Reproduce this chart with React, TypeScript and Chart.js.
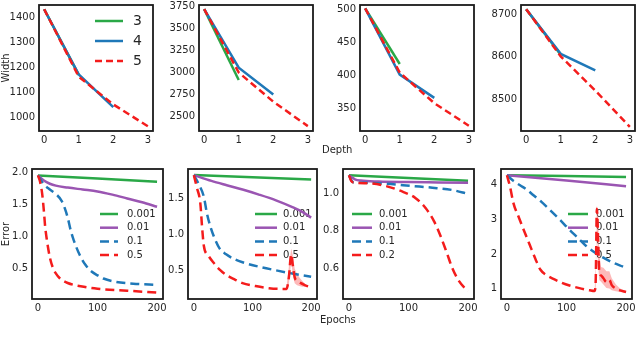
import React, { useEffect, useRef } from "react";
import { Chart, registerables } from "chart.js";
Chart.register(...registerables);

const FONT = "'DejaVu Sans', sans-serif";
const TXT = "#262626";
const GREEN = "#2aa847";
const PURPLE = "#9a55b2";
const BLUE = "#1f78b8";
const RED = "#f41c1c";
const BAND = "rgba(250,100,100,0.45)";

// ---------- Top row: learned width vs depth ----------
const depthSteps = [0, 1, 2, 3];
const depthTicks = [0, 1, 2, 3];
const depthLabels = ["3", "4", "5"];

const w1_d3 = [1435, 1170];
const w1_d4 = [1435, 1172, 1040];
const w1_d5 = [1435, 1163, 1051, 963];
const w1_ticks = [1000, 1100, 1200, 1300, 1400];

const w2_d3 = [3715, 2915];
const w2_d4 = [3715, 3055, 2752];
const w2_d5 = [3715, 3000, 2672, 2396];
const w2_ticks = [2500, 2750, 3000, 3250, 3500, 3750];

const w3_d3 = [501, 417];
const w3_d4 = [501, 401, 366];
const w3_d5 = [501, 404, 358, 324];
const w3_ticks = [350, 400, 450, 500];

const w4_d3 = [8713, 8605];
const w4_d4 = [8713, 8607, 8568];
const w4_d5 = [8713, 8601, 8520, 8434];
const w4_ticks = [8500, 8600, 8700];

// ---------- Bottom row: error vs epochs ----------
const epochTicks = [0, 100, 200];
const lrLabelsA = ["0.001", "0.01", "0.1", "0.5"];
const lrLabelsB = ["0.001", "0.01", "0.1", "0.2"];

const e5_g_ep = [0, 100, 200];
const e5_g = [1.96, 1.91, 1.86];
const e5_p_ep = [0, 10, 20, 30, 50, 75, 100, 125, 150, 175, 200];
const e5_p = [1.96, 1.88, 1.83, 1.8, 1.77, 1.74, 1.71, 1.66, 1.6, 1.54, 1.47];
const e5_b_ep = [0, 10, 20, 30, 40, 45, 50, 55, 60, 70, 80, 90, 100, 110, 130, 160, 200];
const e5_b = [1.96, 1.82, 1.74, 1.67, 1.56, 1.45, 1.3, 1.1, 0.95, 0.72, 0.56, 0.46, 0.4, 0.35, 0.3, 0.27, 0.25];
const e5_r_ep = [0, 3, 7, 10, 12, 15, 20, 25, 30, 37, 50, 77, 100, 150, 200];
const e5_r = [1.96, 1.88, 1.68, 1.4, 1.17, 0.95, 0.68, 0.52, 0.43, 0.35, 0.28, 0.22, 0.19, 0.16, 0.13];
const e5_ticks = [0.5, 1.0, 1.5, 2.0];

const e6_g_ep = [0, 200];
const e6_g = [1.82, 1.76];
const e6_p_ep = [0, 30, 56, 83, 111, 140, 167, 185, 200];
const e6_p = [1.82, 1.74, 1.68, 1.62, 1.55, 1.47, 1.38, 1.31, 1.23];
const e6_b_ep = [0, 8, 17, 22, 28, 35, 44, 55, 70, 83, 110, 139, 170, 200];
const e6_b = [1.82, 1.7, 1.52, 1.3, 1.11, 0.95, 0.8, 0.72, 0.65, 0.61, 0.55, 0.5, 0.45, 0.41];
const e6_r_ep = [0, 5, 11, 14, 17, 25, 33, 45, 56, 70, 83, 105, 128, 150, 158, 162, 166, 169, 172, 176, 180, 190, 200];
const e6_r = [1.82, 1.65, 1.43, 1.1, 0.84, 0.7, 0.61, 0.5, 0.43, 0.37, 0.32, 0.28, 0.25, 0.24, 0.24, 0.4, 0.72, 0.55, 0.4, 0.35, 0.33, 0.29, 0.26];
const e6_band_ep = [158, 162, 166, 169, 172, 176, 180, 185, 190];
const e6_band_hi = [0.26, 0.55, 0.8, 0.7, 0.52, 0.45, 0.4, 0.35, 0.31];
const e6_band_lo = [0.23, 0.3, 0.62, 0.42, 0.32, 0.29, 0.28, 0.27, 0.27];
const e6_ticks = [0.5, 1.0, 1.5];

const e7_g_ep = [0, 200];
const e7_g = [1.097, 1.067];
const e7_p_ep = [0, 5, 10, 20, 50, 100, 150, 200];
const e7_p = [1.097, 1.085, 1.075, 1.068, 1.063, 1.06, 1.058, 1.056];
const e7_b_ep = [0, 4, 8, 30, 60, 107, 140, 173, 200];
const e7_b = [1.097, 1.07, 1.058, 1.056, 1.052, 1.039, 1.03, 1.018, 0.997];
const e7_r_ep = [0, 4, 8, 35, 62, 90, 112, 129, 143, 154, 165, 173, 184, 198, 200];
const e7_r = [1.097, 1.065, 1.058, 1.053, 1.039, 1.009, 0.974, 0.92, 0.85, 0.77, 0.676, 0.605, 0.535, 0.483, 0.478];
const e7_ticks = [0.6, 0.8, 1.0];

const e8_g_ep = [0, 200];
const e8_g = [4.27, 4.22];
const e8_p_ep = [0, 100, 200];
const e8_p = [4.27, 4.12, 3.95];
const e8_b_ep = [0, 10, 22, 33, 44, 58, 72, 88, 105, 120, 133, 147, 161, 178, 194, 200];
const e8_b = [4.27, 4.12, 3.98, 3.86, 3.7, 3.5, 3.27, 3.0, 2.7, 2.45, 2.23, 2.05, 1.9, 1.75, 1.64, 1.6];
const e8_r_ep = [0, 5, 11, 20, 28, 39, 48, 56, 67, 78, 92, 105, 120, 139, 147, 149, 151, 153, 155, 158, 162, 167, 172, 176, 183, 190, 200];
const e8_r = [4.27, 3.95, 3.46, 3.05, 2.7, 2.23, 1.85, 1.55, 1.38, 1.28, 1.17, 1.09, 1.02, 0.95, 0.93, 1.2, 3.3, 2.5, 1.5, 1.38, 1.3, 1.19, 1.25, 1.1, 1.0, 0.95, 0.9];
const e8_band_ep = [147, 149, 151, 153, 155, 158, 162, 167, 172, 176, 183, 190, 200];
const e8_band_hi = [0.95, 1.6, 3.4, 3.2, 2.0, 1.62, 1.6, 1.5, 1.5, 1.3, 1.12, 1.0, 0.93];
const e8_band_lo = [0.91, 1.0, 2.8, 1.7, 1.25, 1.2, 1.12, 1.02, 1.0, 0.95, 0.92, 0.9, 0.88];
const e8_ticks = [1, 2, 3, 4];

// ---------- helpers ----------
const PT = 8;
const PR = 14;
const XH = 20;

const pts = (xs: number[], ys: number[]) => ys.map((y, i) => ({ x: xs[i], y }));

function line(label: string, xs: number[], ys: number[], color: string, dashed: boolean, order: number, dash: number[]) {
  return {
    label,
    data: pts(xs, ys),
    borderColor: color,
    backgroundColor: color,
    borderWidth: 2.5,
    borderDash: dashed ? dash : [],
    pointRadius: 0,
    fill: false,
    order,
    cubicInterpolationMode: "monotone",
    inLegend: true,
  };
}

function band(xs: number[], lo: number[], hi: number[]) {
  return [
    { label: "", data: pts(xs, lo), borderWidth: 0, borderColor: "transparent", pointRadius: 0, fill: false, order: 5, inLegend: false },
    { label: "", data: pts(xs, hi), borderWidth: 0, borderColor: "transparent", backgroundColor: BAND, pointRadius: 0, fill: "-1", order: 5, inLegend: false },
  ];
}

function topSets(a: number[], b: number[], c: number[]) {
  const d = [7, 4];
  return [
    { ...line(depthLabels[0], depthSteps, a, GREEN, false, 3, d), cubicInterpolationMode: "default", tension: 0 },
    { ...line(depthLabels[1], depthSteps, b, BLUE, false, 2, d), cubicInterpolationMode: "default", tension: 0 },
    { ...line(depthLabels[2], depthSteps, c, RED, true, 1, d), cubicInterpolationMode: "default", tension: 0 },
  ];
}

function botSets(labels: string[], g: [number[], number[]], p: [number[], number[]], b: [number[], number[]], r: [number[], number[]], bands: any[]) {
  const d = [9, 5];
  return [
    line(labels[0], g[0], g[1], GREEN, false, 4, d),
    line(labels[1], p[0], p[1], PURPLE, false, 3, d),
    line(labels[2], b[0], b[1], BLUE, true, 2, d),
    ...bands,
    line(labels[3], r[0], r[1], RED, true, 1, d),
  ];
}

const framePlugin = {
  id: "frame",
  afterDraw(chart: any) {
    const { ctx, chartArea } = chart;
    ctx.save();
    ctx.strokeStyle = "#1a1a1a";
    ctx.lineWidth = 1.8;
    ctx.strokeRect(chartArea.left, chartArea.top, chartArea.right - chartArea.left, chartArea.bottom - chartArea.top);
    ctx.restore();
  },
};

const legendPlugin = {
  id: "innerLegend",
  beforeDatasetsDraw(chart: any, _args: any, opts: any) {
    if (!opts || !opts.show) return;
    const { ctx, chartArea } = chart;
    const items = chart.data.datasets.filter((d: any) => d.inLegend);
    ctx.save();
    items.forEach((ds: any, i: number) => {
      const y = chartArea.top + opts.y0 + i * opts.dy;
      ctx.strokeStyle = ds.borderColor;
      ctx.lineWidth = ds.borderWidth;
      ctx.setLineDash(ds.borderDash || []);
      ctx.beginPath();
      ctx.moveTo(chartArea.left + opts.x0, y);
      ctx.lineTo(chartArea.left + opts.x1, y);
      ctx.stroke();
      ctx.setLineDash([]);
      ctx.fillStyle = TXT;
      ctx.font = `${opts.size}px ${FONT}`;
      ctx.textBaseline = "middle";
      ctx.textAlign = "left";
      ctx.fillText(ds.label, chartArea.left + opts.tx, y);
    });
    ctx.restore();
  },
};

type PanelCfg = {
  box: { l: number; t: number; r: number; b: number };
  yw: number;
  xmin: number;
  xmax: number;
  xticks: number[];
  ymin: number;
  ymax: number;
  yticks: number[];
  ydec: number;
  ytitle?: string;
  datasets: any[];
  legend?: any;
};

const panels: PanelCfg[] = [
  {
    box: { l: 39, t: 3, r: 153, b: 131 }, yw: 39, xmin: -0.15, xmax: 3.15, xticks: depthTicks,
    ymin: 944, ymax: 1452, yticks: w1_ticks, ydec: 0, ytitle: "Width",
    datasets: topSets(w1_d3, w1_d4, w1_d5),
    legend: { show: true, x0: 56, x1: 84, tx: 94, y0: 16, dy: 20, size: 14 },
  },
  {
    box: { l: 199, t: 3, r: 313, b: 131 }, yw: 36, xmin: -0.15, xmax: 3.15, xticks: depthTicks,
    ymin: 2341, ymax: 3761, yticks: w2_ticks, ydec: 0,
    datasets: topSets(w2_d3, w2_d4, w2_d5),
  },
  {
    box: { l: 360, t: 3, r: 474, b: 131 }, yw: 36, xmin: -0.15, xmax: 3.15, xticks: depthTicks,
    ymin: 316, ymax: 506, yticks: w3_ticks, ydec: 0,
    datasets: topSets(w3_d3, w3_d4, w3_d5),
  },
  {
    box: { l: 521, t: 3, r: 635, b: 131 }, yw: 36, xmin: -0.15, xmax: 3.15, xticks: depthTicks,
    ymin: 8424, ymax: 8723, yticks: w4_ticks, ydec: 0,
    datasets: topSets(w4_d3, w4_d4, w4_d5),
  },
  {
    box: { l: 32, t: 167, r: 163, b: 299 }, yw: 32, xmin: -10, xmax: 210, xticks: epochTicks,
    ymin: 0.03, ymax: 2.06, yticks: e5_ticks, ydec: 1, ytitle: "Error",
    datasets: botSets(lrLabelsA, [e5_g_ep, e5_g], [e5_p_ep, e5_p], [e5_b_ep, e5_b], [e5_r_ep, e5_r], []),
    legend: { show: true, x0: 68, x1: 86, tx: 95, y0: 45, dy: 13.7, size: 10 },
  },
  {
    box: { l: 188, t: 167, r: 317, b: 299 }, yw: 34, xmin: -10, xmax: 210, xticks: epochTicks,
    ymin: 0.1, ymax: 1.905, yticks: e6_ticks, ydec: 1,
    datasets: botSets(lrLabelsA, [e6_g_ep, e6_g], [e6_p_ep, e6_p], [e6_b_ep, e6_b], [e6_r_ep, e6_r], band(e6_band_ep, e6_band_lo, e6_band_hi)),
    legend: { show: true, x0: 67, x1: 89, tx: 95, y0: 45, dy: 13.7, size: 10 },
  },
  {
    box: { l: 343, t: 167, r: 474, b: 299 }, yw: 34, xmin: -10, xmax: 210, xticks: epochTicks,
    ymin: 0.435, ymax: 1.13, yticks: e7_ticks, ydec: 1,
    datasets: botSets(lrLabelsB, [e7_g_ep, e7_g], [e7_p_ep, e7_p], [e7_b_ep, e7_b], [e7_r_ep, e7_r], []),
    legend: { show: true, x0: 9, x1: 29, tx: 36, y0: 45, dy: 13.7, size: 10 },
  },
  {
    box: { l: 501, t: 167, r: 632, b: 299 }, yw: 34, xmin: -10, xmax: 210, xticks: epochTicks,
    ymin: 0.7, ymax: 4.45, yticks: e8_ticks, ydec: 0,
    datasets: botSets(lrLabelsA, [e8_g_ep, e8_g], [e8_p_ep, e8_p], [e8_b_ep, e8_b], [e8_r_ep, e8_r], band(e8_band_ep, e8_band_lo, e8_band_hi)),
    legend: { show: true, x0: 67, x1: 87, tx: 95, y0: 45, dy: 13.7, size: 10 },
  },
];

function Panel({ cfg }: { cfg: PanelCfg }) {
  const ref = useRef<HTMLCanvasElement>(null);
  const { l, t, r, b } = cfg.box;
  const w = cfg.yw + (r - l) + PR;
  const h = PT + (b - t) + XH;
  useEffect(() => {
    if (!ref.current) return;
    const tickFont = { family: FONT, size: 10 };
    const chart = new Chart(ref.current, {
      type: "line",
      data: { datasets: cfg.datasets },
      plugins: [legendPlugin, framePlugin],
      options: {
        responsive: false,
        animation: false,
        devicePixelRatio: 1,
        layout: { padding: { left: 0, top: PT, right: PR, bottom: 0 } },
        plugins: {
          legend: { display: false },
          tooltip: { enabled: false },
          innerLegend: cfg.legend || { show: false },
        } as any,
        scales: {
          x: {
            type: "linear",
            min: cfg.xmin,
            max: cfg.xmax,
            grid: { display: false, drawTicks: false },
            border: { display: false },
            ticks: { font: tickFont, color: TXT, padding: 3, maxRotation: 0, autoSkip: false, callback: (v: any) => String(v) },
            afterBuildTicks: (s: any) => { s.ticks = cfg.xticks.map((v) => ({ value: v })); },
            afterFit: (s: any) => { s.height = XH; },
          },
          y: {
            type: "linear",
            min: cfg.ymin,
            max: cfg.ymax,
            grid: { display: false, drawTicks: false },
            border: { display: false },
            ticks: { font: tickFont, color: TXT, padding: 4, autoSkip: false, callback: (v: any) => Number(v).toFixed(cfg.ydec) },
            afterBuildTicks: (s: any) => { s.ticks = cfg.yticks.map((v) => ({ value: v })); },
            afterFit: (s: any) => { s.width = cfg.yw; },
            title: { display: !!cfg.ytitle, text: cfg.ytitle || "", font: { family: FONT, size: 10 }, color: TXT, padding: 0 },
          },
        },
      } as any,
    } as any);
    return () => chart.destroy();
  }, []);
  return (
    <canvas
      ref={ref}
      width={w}
      height={h}
      style={{ position: "absolute", left: l - cfg.yw, top: t - PT, width: w, height: h }}
    />
  );
}

const labelStyle: React.CSSProperties = {
  position: "absolute",
  fontFamily: FONT,
  fontSize: 10,
  lineHeight: "12px",
  color: TXT,
  whiteSpace: "nowrap",
};

export default function App() {
  return (
    <div style={{ position: "absolute", left: 0, top: 0, width: 640, height: 345, overflow: "hidden", background: "#fff" }}>
      {panels.map((p, i) => (
        <Panel key={i} cfg={p} />
      ))}
      <span style={{ ...labelStyle, left: 322, top: 144 }}>Depth</span>
      <span style={{ ...labelStyle, left: 320, top: 314 }}>Epochs</span>
    </div>
  );
}
